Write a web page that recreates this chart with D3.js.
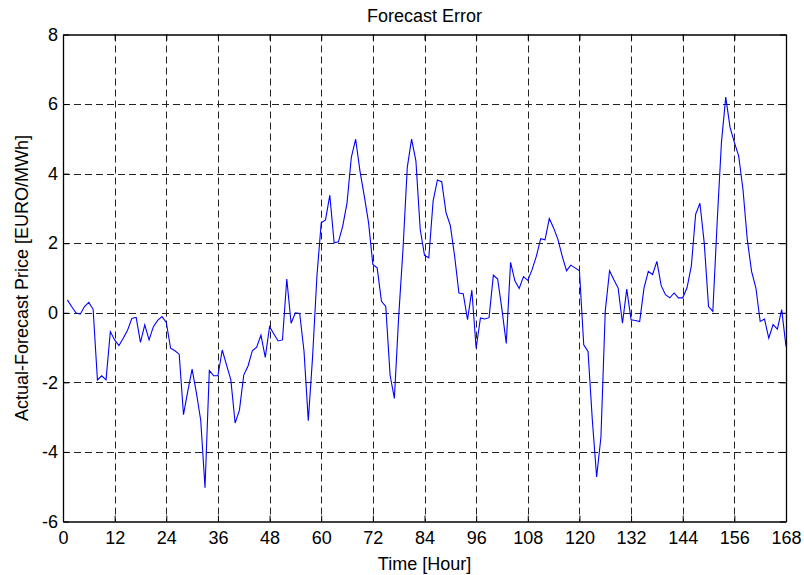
<!DOCTYPE html>
<html><head><meta charset="utf-8">
<script src="https://cdn.jsdelivr.net/npm/d3@7"></script>
<style>body{margin:0;background:#fff}svg text{font-family:"Liberation Sans",Arial,sans-serif;fill:#000}</style>
</head><body><svg id="c" width="804" height="575"></svg>
<script>
const title = "Forecast Error";
const xLabel = "Time [Hour]";
const yLabel = "Actual-Forecast Price [EURO/MWh]";
const xTicks = [0,12,24,36,48,60,72,84,96,108,120,132,144,156,168];
const yTicks = [-6,-4,-2,0,2,4,6,8];
const hours = d3.range(1,169);
const errors = [
 0.37,0.18,0.0,-0.04,0.18,0.3,0.1,-1.93,-1.81,-1.93,
 -0.54,-0.78,-0.94,-0.73,-0.5,-0.16,-0.13,-0.85,-0.35,-0.78,
 -0.4,-0.22,-0.11,-0.28,-1.02,-1.09,-1.19,-2.93,-2.25,-1.62,
 -2.3,-3.09,-5.03,-1.66,-1.81,-1.81,-1.07,-1.5,-1.93,-3.17,
 -2.8,-1.79,-1.53,-1.09,-0.99,-0.64,-1.28,-0.4,-0.61,-0.81,
 -0.78,0.97,-0.3,0.0,-0.02,-1.1,-3.1,-1.26,1.05,2.59,
 2.67,3.38,2.01,2.04,2.49,3.16,4.47,4.99,4.08,3.36,
 2.59,1.39,1.29,0.33,0.18,-1.79,-2.46,-0.11,1.82,4.18,
 4.99,4.37,2.40,1.65,1.58,3.21,3.82,3.77,2.88,2.51,
 1.63,0.57,0.55,-0.2,0.65,-1.02,-0.15,-0.18,-0.14,1.08,
 0.97,0.09,-0.88,1.45,0.92,0.70,1.04,0.93,1.24,1.63,
 2.13,2.1,2.71,2.44,2.11,1.63,1.21,1.37,1.29,1.21,
 -0.92,-1.11,-3.09,-4.72,-3.57,0.04,1.21,0.95,0.71,-0.3,
 0.68,-0.2,-0.22,-0.25,0.71,1.19,1.1,1.48,0.78,0.52,
 0.43,0.57,0.43,0.43,0.72,1.34,2.83,3.15,2.01,0.18,
 0.04,2.59,4.9,6.2,5.33,4.9,4.51,3.55,2.11,1.19,
 0.72,-0.25,-0.18,-0.73,-0.34,-0.47,0.09,-0.97
];

const L=63, R=786, T=34.5, B=521.5;
const svg = d3.select("#c");
const x = d3.scaleLinear().domain([0,168]).range([L,R]);
const y = d3.scaleLinear().domain([-6,8]).range([B,T]);
const fmt = d => String(d);

// grid
const g = svg.append("g");
g.selectAll("line.gx").data(xTicks.slice(1,-1)).join("line")
 .attr("x1",d=>Math.round(x(d))+0.5).attr("x2",d=>Math.round(x(d))+0.5)
 .attr("y1",T).attr("y2",B)
 .attr("stroke","#222").attr("stroke-width",1).attr("stroke-dasharray","7,4");
g.selectAll("line.gy").data(yTicks.slice(1,-1)).join("line")
 .attr("y1",d=>Math.round(y(d))+0.5).attr("y2",d=>Math.round(y(d))+0.5)
 .attr("x1",L).attr("x2",R)
 .attr("stroke","#222").attr("stroke-width",1).attr("stroke-dasharray","7,4");

// axes (inward ticks)
const fs = 18;
const xb = svg.append("g").attr("transform",`translate(0,${B})`)
 .call(d3.axisBottom(x).tickValues(xTicks).tickFormat(fmt).tickSizeInner(-6).tickSizeOuter(0).tickPadding(10));
const xt = svg.append("g").attr("transform",`translate(0,${T})`)
 .call(d3.axisTop(x).tickValues(xTicks).tickSizeInner(-6).tickSizeOuter(0).tickFormat(""));
const yl = svg.append("g").attr("transform",`translate(${L},0)`)
 .call(d3.axisLeft(y).tickValues(yTicks).tickFormat(fmt).tickSizeInner(-6).tickSizeOuter(0).tickPadding(5));
const yr = svg.append("g").attr("transform",`translate(${R},0)`)
 .call(d3.axisRight(y).tickValues(yTicks).tickSizeInner(-6).tickSizeOuter(0).tickFormat(""));
[xb,xt,yl,yr].forEach(a=>{
 a.selectAll("path").attr("stroke","#000").attr("stroke-width",1.3);
 a.selectAll("line").attr("stroke","#000");
 a.selectAll("text").attr("font-size",fs).attr("font-family","Liberation Sans, Arial, sans-serif").attr("fill","#000");
});

// line
svg.append("path").datum(hours.map((h,i)=>[h,errors[i]]))
 .attr("fill","none").attr("stroke","#0000ff").attr("stroke-width",1.1)
 .attr("d",d3.line().x(d=>x(d[0])).y(d=>y(d[1])));

// texts
svg.append("text").attr("x",(L+R)/2).attr("y",21.5).attr("text-anchor","middle")
 .attr("font-size",fs).text(title);
svg.append("text").attr("x",(L+R)/2).attr("y",570).attr("text-anchor","middle")
 .attr("font-size",fs).text(xLabel);
svg.append("text").attr("transform",`translate(28,${(T+B)/2}) rotate(-90)`).attr("text-anchor","middle")
 .attr("font-size",fs).text(yLabel);
</script></body></html>
